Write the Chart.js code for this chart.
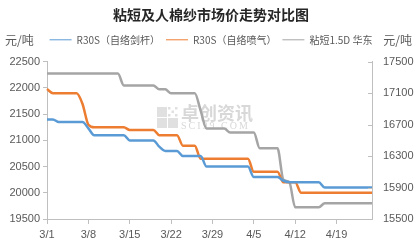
<!DOCTYPE html>
<html>
<head>
<meta charset="utf-8">
<script src="https://cdn.jsdelivr.net/npm/chart.js@4/dist/chart.umd.min.js"></script>
<style>
  html, body { margin: 0; padding: 0; background: #ffffff; }
  canvas { display: block; }
</style>
</head>
<body>
<canvas id="c" width="415" height="240"></canvas>
<script>
// Daily dates, 3/1 – 4/25
const dates = [
  '3/1','3/2','3/3','3/4','3/5','3/6','3/7','3/8','3/9','3/10',
  '3/11','3/12','3/13','3/14','3/15','3/16','3/17','3/18','3/19','3/20',
  '3/21','3/22','3/23','3/24','3/25','3/26','3/27','3/28','3/29','3/30','3/31',
  '4/1','4/2','4/3','4/4','4/5','4/6','4/7','4/8','4/9','4/10',
  '4/11','4/12','4/13','4/14','4/15','4/16','4/17','4/18','4/19','4/20',
  '4/21','4/22','4/23','4/24','4/25'
];

// R30S（自络剑杆）, 元/吨, left axis
const rapierYarn = [
  21400,21400,21350,21350,21350,21350,21350,21230,21100,21100,
  21100,21100,21100,21100,21000,21000,21000,21000,21000,20880,
  20800,20800,20800,20700,20700,20700,20700,20500,20500,20500,20500,
  20500,20500,20500,20500,20300,20300,20300,20300,20300,20230,
  20200,20200,20200,20200,20200,20200,20100,20100,20100,20100,
  20100,20100,20100,20100,20100
];

// R30S（自络喷气）, 元/吨, left axis
const airjetYarn = [
  21980,21900,21900,21900,21900,21900,21700,21300,21250,21250,
  21250,21250,21250,21250,21200,21200,21200,21200,21200,21100,
  21100,21100,21100,20900,20900,20900,20650,20650,20650,20650,20650,
  20650,20650,20650,20650,20400,20400,20400,20400,20400,20200,
  20200,20200,20000,20000,20000,20000,20000,20000,20000,20000,
  20000,20000,20000,20000,20000
];

// 粘短1.5D 华东, 元/吨, right axis
const viscoseStaple = [
  17350,17350,17350,17350,17350,17350,17350,17350,17350,17350,
  17350,17350,17350,17200,17200,17200,17200,17200,17200,17150,
  17150,17100,17100,17100,17100,17100,16880,16650,16650,16650,16650,
  16600,16600,16600,16600,16600,16400,16400,16400,16400,16000,
  15970,15650,15650,15650,15650,15650,15700,15700,15700,15700,
  15700,15700,15700,15700,15700
];

const seriesNames = ['R30S（自络剑杆）', 'R30S（自络喷气）', '粘短1.5D 华东'];
const xTickLabels = ['3/1','3/8','3/15','3/22','3/29','4/5','4/12','4/19'];
const leftTicks = [19500, 20000, 20500, 21000, 21500, 22000, 22500];
const rightTicks = [15500, 15900, 16300, 16700, 17100, 17500];

const AXIS = '#bfbfbf';
const TEXT = '#595959';
const CJK = '"Noto Sans CJK SC", "Noto Sans", sans-serif';
const NUM = '"Liberation Sans", Arial, sans-serif';

// unit captions above both value axes
const unitCaptions = {
  id: 'unitCaptions',
  afterDraw(chart) {
    const ctx = chart.ctx;
    ctx.save();
    ctx.fillStyle = TEXT;
    ctx.font = '12px ' + CJK;
    ctx.textBaseline = 'middle';
    ctx.textAlign = 'left';
    ctx.fillText('元/吨', 5, 40);
    ctx.textAlign = 'right';
    ctx.fillText('元/吨', 412, 40);
    ctx.restore();
  }
};

// inward tick marks on the secondary axis
const innerTicks = {
  id: 'innerTicks',
  afterDraw(chart) {
    const s = chart.scales.yRight;
    const ctx = chart.ctx;
    ctx.save();
    ctx.strokeStyle = AXIS;
    ctx.lineWidth = 1;
    ctx.beginPath();
    s.ticks.forEach(t => {
      const y = Math.round(s.getPixelForValue(t.value)) + 0.5;
      ctx.moveTo(s.left - 4, y);
      ctx.lineTo(s.left, y);
    });
    ctx.stroke();
    ctx.restore();
  }
};

// faint source mark behind the lines
const sourceMark = {
  id: 'sourceMark',
  beforeDatasetsDraw(chart) {
    const ctx = chart.ctx;
    const x0 = 157, y0 = 107;
    ctx.save();
    ctx.fillStyle = '#e0e0e0';
    ctx.fillRect(x0, y0, 10, 10);
    ctx.fillRect(x0, y0 + 11, 10, 10);
    ctx.fillRect(x0 + 11, y0 + 11, 10, 10);
    for (let i = 0; i < 3; i++) {
      for (let j = 0; j < 3; j++) {
        if ((i + j) % 2 === 0) ctx.fillRect(x0 + 11 + i * 3.5, y0 + j * 3.5, 2.5, 2.5);
      }
    }
    ctx.fillStyle = '#d8d8d8';
    ctx.font = 'bold 18px ' + CJK;
    ctx.textBaseline = 'middle';
    ctx.fillText('卓创资讯', 181, 113);
    ctx.font = '10px "Liberation Serif", serif';
    if ('letterSpacing' in ctx) ctx.letterSpacing = '2px';
    ctx.fillText('SCI99.COM', 181, 126);
    ctx.restore();
  }
};

// extra room between legend and plot
const legendGap = {
  id: 'legendGap',
  beforeInit(chart) {
    const fit = chart.legend.fit;
    chart.legend.fit = function () {
      fit.call(this);
      this.height += 7;
    };
  }
};

const plainNumber = v => String(v);

new Chart(document.getElementById('c'), {
  type: 'line',
  data: {
    labels: dates,
    datasets: [
      { label: seriesNames[0], data: rapierYarn, yAxisID: 'y',
        borderColor: '#5B9BD5', backgroundColor: '#5B9BD5' },
      { label: seriesNames[1], data: airjetYarn, yAxisID: 'y',
        borderColor: '#ED7D31', backgroundColor: '#ED7D31' },
      { label: seriesNames[2], data: viscoseStaple, yAxisID: 'yRight',
        borderColor: '#A5A5A5', backgroundColor: '#A5A5A5' }
    ]
  },
  options: {
    responsive: false,
    animation: false,
    devicePixelRatio: 1,
    layout: { padding: { left: 7, right: 0, top: 0, bottom: 0 } },
    elements: {
      line: { borderWidth: 2.5, cubicInterpolationMode: 'monotone', fill: false },
      point: { radius: 0, hoverRadius: 0 }
    },
    plugins: {
      title: {
        display: true,
        text: '粘短及人棉纱市场价走势对比图',
        color: '#262626',
        font: { family: CJK, size: 14, weight: 'bold' },
        padding: { top: 6, bottom: 6 }
      },
      legend: {
        display: true,
        position: 'top',
        labels: {
          usePointStyle: true,
          pointStyle: 'line',
          pointStyleWidth: 22,
          color: TEXT,
          font: { family: CJK, size: 10 },
          padding: 6
        }
      },
      tooltip: { enabled: false }
    },
    scales: {
      x: {
        type: 'category',
        offset: false,
        afterBuildTicks(scale) {
          scale.ticks = scale.ticks.filter(t => xTickLabels.includes(dates[t.value]));
        },
        afterFit(scale) { scale.height = 21; },
        ticks: { autoSkip: false, maxRotation: 0, color: TEXT, font: { family: NUM, size: 11 }, padding: 4 },
        grid: { display: true, drawOnChartArea: false, tickLength: 5, color: AXIS },
        border: { display: true, color: AXIS }
      },
      y: {
        position: 'left',
        min: leftTicks[0],
        max: leftTicks[leftTicks.length - 1],
        afterBuildTicks(scale) {
          scale.ticks = leftTicks.map(v => ({ value: v }));
        },
        afterFit(scale) { scale.width = 40; },
        ticks: { color: TEXT, font: { family: NUM, size: 11 }, padding: 3, callback: plainNumber },
        grid: { display: true, drawOnChartArea: false, tickLength: 4, color: AXIS },
        border: { display: true, color: AXIS }
      },
      yRight: {
        position: 'right',
        min: rightTicks[0],
        max: rightTicks[rightTicks.length - 1],
        afterBuildTicks(scale) {
          scale.ticks = rightTicks.map(v => ({ value: v }));
        },
        afterFit(scale) { scale.width = 43; },
        ticks: { color: TEXT, font: { family: NUM, size: 11 }, padding: 11, callback: plainNumber },
        grid: { display: true, drawOnChartArea: false, drawTicks: false, color: AXIS },
        border: { display: true, color: AXIS }
      }
    }
  },
  plugins: [legendGap, sourceMark, innerTicks, unitCaptions]
});
</script>
</body>
</html>
